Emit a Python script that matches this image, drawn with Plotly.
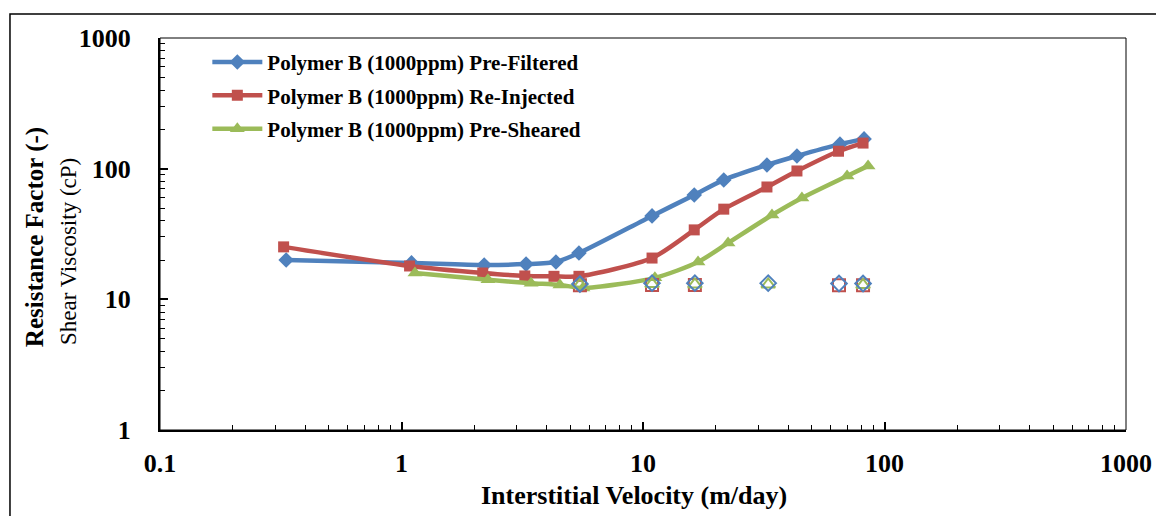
import plotly.graph_objects as go

# Resistance factor data (filled markers)
pf_x = [0.333, 1.10, 2.20, 3.28, 4.36, 5.43, 10.9, 16.3, 21.6, 32.6, 43.4, 65.4, 82.3]
pf_y = [20.0, 19.0, 18.3, 18.6, 19.3, 22.6, 43.5, 62.9, 82.0, 106.7, 125.0, 154.0, 169.0]

ri_x = [0.325, 1.08, 2.17, 3.24, 4.28, 5.43, 10.9, 16.3, 21.6, 32.6, 43.4, 64.5, 81.5]
ri_y = [25.2, 18.0, 15.9, 15.1, 15.0, 15.0, 20.7, 34.0, 49.0, 72.4, 96.0, 136.0, 157.0]

ps_x = [1.137, 2.28, 3.44, 4.53, 5.64, 11.2, 16.9, 22.5, 34.2, 45.5, 70.0, 85.5]
ps_y = [15.9, 14.1, 13.3, 12.9, 12.2, 14.6, 19.3, 27.0, 44.2, 59.7, 87.9, 105.0]

# Shear viscosity data (open markers)
svb_x = [5.48, 10.9, 16.4, 33.0, 64.8, 81.5]
svb_y = [13.1, 13.3, 13.3, 13.3, 13.2, 13.2]
svr_x = [5.48, 10.9, 16.4, 64.8, 81.5]
svr_y = [12.8, 12.9, 12.9, 12.8, 12.8]
svg_x = [5.48, 10.9, 16.4, 33.0, 81.5]
svg_y = [12.9, 13.1, 13.0, 13.0, 12.9]

names = ["Polymer B (1000ppm) Pre-Filtered",
         "Polymer B (1000ppm) Re-Injected",
         "Polymer B (1000ppm) Pre-Sheared"]

BLUE = "#4F81BD"
RED = "#C0504D"
GREEN = "#9BBB59"
SERIF = "Liberation Serif, Times New Roman, serif"

fig = go.Figure()

for x, y, nm, col, sym, sz, grp in [
    (pf_x, pf_y, names[0], BLUE, "diamond", 12, "a"),
    (ri_x, ri_y, names[1], RED, "square", 11, "b"),
    (ps_x, ps_y, names[2], GREEN, "triangle-up", 13, "c"),
]:
    fig.add_trace(go.Scatter(
        x=x, y=y, name=nm, mode="lines+markers", legendgroup=grp,
        line=dict(color=col, width=4.5, shape="spline", smoothing=0.7),
        marker=dict(symbol=sym, size=sz, color=col),
    ))

for x, y, col, sym in [
    (svr_x, svr_y, RED, "square-open"),
    (svg_x, svg_y, GREEN, "triangle-up-open"),
    (svb_x, svb_y, BLUE, "diamond-open"),
]:
    fig.add_trace(go.Scatter(
        x=x, y=y, mode="markers", showlegend=False,
        marker=dict(symbol=sym, size=12, color=col, line=dict(color=col, width=2)),
    ))

axis_common = dict(
    type="log", showgrid=False, zeroline=False, automargin=False,
    showline=True, linecolor="black", linewidth=2, mirror=False,
    ticks="inside", ticklen=8, tickwidth=1.5, tickcolor="black",
    minor=dict(ticks="inside", ticklen=5, tickwidth=1, tickcolor="black", dtick="D1", showgrid=False),
    tickfont=dict(family=SERIF, size=26, color="black", weight="bold"),
    dtick=1,
)

fig.update_xaxes(range=[-1, 3], ticklabelstandoff=9, **axis_common)
fig.update_yaxes(range=[0, 3], ticklabelstandoff=22, **axis_common)

fig.update_layout(
    width=1156, height=516,
    margin=dict(l=160, r=30, t=38, b=86),
    plot_bgcolor="white", paper_bgcolor="white",
    showlegend=True,
    legend=dict(
        x=0.049, y=0.99, xanchor="left", yanchor="top",
        font=dict(family=SERIF, size=21, color="black", weight="bold"),
        bgcolor="rgba(0,0,0,0)", tracegroupgap=3, itemwidth=50,
    ),
    shapes=[
        dict(type="rect", xref="paper", yref="paper", x0=0, x1=1, y0=0, y1=1,
             line=dict(color="black", width=1), layer="above"),
        dict(type="rect", xref="paper", yref="paper", x0=-0.1553, x1=1.2, y0=-0.5, y1=1.0612,
             line=dict(color="black", width=1.5)),
    ],
    annotations=[
        dict(text="<b>Resistance Factor (-)</b>", xref="paper", yref="paper",
             x=-0.1294, y=0.492, textangle=-90, showarrow=False,
             xanchor="center", yanchor="middle",
             font=dict(family=SERIF, size=25, color="black")),
        dict(text="Shear Viscosity (cP)", xref="paper", yref="paper",
             x=-0.0952, y=0.454, textangle=-90, showarrow=False,
             xanchor="center", yanchor="middle",
             font=dict(family=SERIF, size=23, color="black")),
        dict(text="<b>Interstitial Velocity (m/day)</b>", xref="paper", yref="paper",
             x=0.4907, y=-0.168, showarrow=False,
             xanchor="center", yanchor="middle",
             font=dict(family=SERIF, size=26, color="black")),
    ],
)

fig.write_html("out.html")
